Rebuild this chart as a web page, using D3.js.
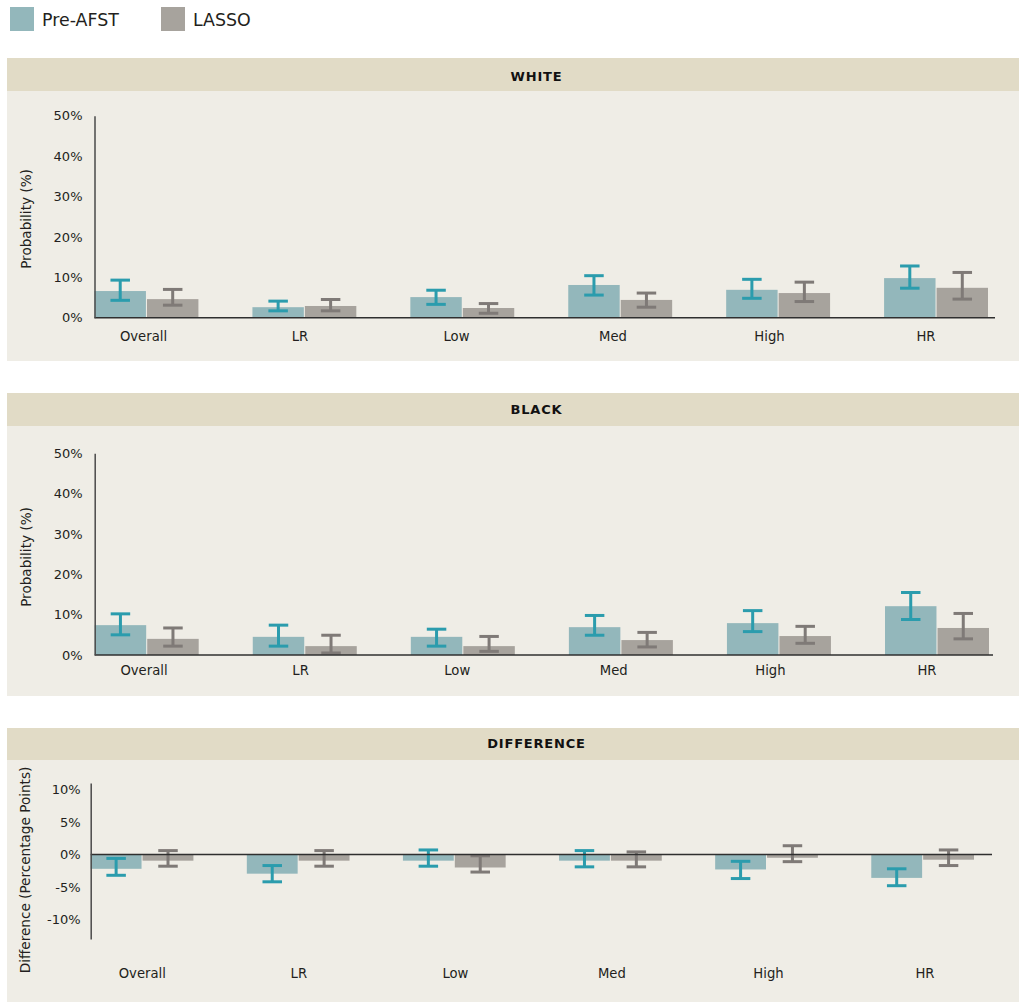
<!DOCTYPE html>
<html>
<head>
<meta charset="utf-8">
<script src="https://cdn.jsdelivr.net/npm/d3@7"></script>
<style>
  html, body { margin: 0; padding: 0; background: #ffffff; }
  svg { display: block; font-family: "DejaVu Sans", sans-serif; }
</style>
</head>
<body>
<svg id="chart" width="1019" height="1002"></svg>
<script>
// Risk-level categories shared by all three panels
const categories = ["Overall", "LR", "Low", "Med", "High", "HR"];
const seriesNames = ["Pre-AFST", "LASSO"];

// WHITE: probability (%) with interval bounds
const whitePre       = [6.6, 2.6, 5.1, 8.1, 6.9, 9.8];
const whitePreLow    = [4.3, 1.7, 3.3, 5.6, 4.8, 7.3];
const whitePreHigh   = [9.3, 4.1, 6.8, 10.4, 9.5, 12.8];
const whiteLasso     = [4.6, 2.9, 2.4, 4.4, 6.1, 7.4];
const whiteLassoLow  = [3.1, 1.7, 1.1, 2.6, 4.0, 4.6];
const whiteLassoHigh = [7.0, 4.5, 3.5, 6.1, 8.8, 11.2];

// BLACK: probability (%) with interval bounds
const blackPre       = [7.4, 4.5, 4.5, 6.9, 7.9, 12.1];
const blackPreLow    = [5.0, 2.2, 2.2, 4.9, 5.8, 8.8];
const blackPreHigh   = [10.2, 7.4, 6.4, 9.8, 11.0, 15.5];
const blackLasso     = [4.0, 2.2, 2.2, 3.7, 4.7, 6.7];
const blackLassoLow  = [2.2, 0.5, 0.9, 2.0, 2.9, 4.0];
const blackLassoHigh = [6.7, 4.9, 4.6, 5.6, 7.1, 10.3];

// DIFFERENCE: percentage points with interval bounds
const diffPre        = [-2.2, -2.95, -0.95, -0.95, -2.3, -3.6];
const diffPreLow     = [-3.2, -4.2, -1.8, -1.9, -3.7, -4.8];
const diffPreHigh    = [-0.6, -1.7, 0.7, 0.6, -1.05, -2.2];
const diffLasso      = [-0.95, -0.95, -2.0, -0.95, -0.5, -0.8];
const diffLassoLow   = [-1.8, -1.8, -2.7, -1.9, -1.1, -1.7];
const diffLassoHigh  = [0.6, 0.6, -0.2, 0.4, 1.35, 0.7];

// Tick values
const probTicks = [0, 10, 20, 30, 40, 50];
const diffTicks = [-10, -5, 0, 5, 10];

const colors = {
  headerBg: "#e1dbc6",
  bodyBg: "#efede6",
  bar: ["#93b7bb", "#a7a39d"],
  err: ["#2b9cad", "#7f7a77"],
  axis: "#4a4a4a",
  text: "#231f20"
};

const svg = d3.select("#chart");

// Legend
const legend = svg.append("g");
const legendX = [10, 161];
seriesNames.forEach((name, i) => {
  legend.append("rect")
    .attr("x", legendX[i]).attr("y", 7)
    .attr("width", 24).attr("height", 24)
    .attr("fill", colors.bar[i]);
  legend.append("text")
    .attr("x", legendX[i] + 32).attr("y", 19.3)
    .attr("dy", "0.36em")
    .attr("font-size", 17.4)
    .attr("fill", colors.text)
    .text(name);
});

function buildRows(pre, preLo, preHi, las, lasLo, lasHi) {
  return categories.map((c, i) => ({
    category: c,
    values: [
      { s: 0, v: pre[i], lo: preLo[i], hi: preHi[i] },
      { s: 1, v: las[i], lo: lasLo[i], hi: lasHi[i] }
    ]
  }));
}

const panels = [
  {
    title: "WHITE", yTitle: "Probability (%)",
    rows: buildRows(whitePre, whitePreLow, whitePreHigh, whiteLasso, whiteLassoLow, whiteLassoHigh),
    domain: [0, 50], ticks: probTicks, tickFmt: d => d + "%",
    top: 58, headerH: 33, bottom: 361, titleY: 76.5,
    yRange: [317.7, 115.7], axisX: 94.5, barsEnd: 988, lineEnd: 995,
    labelRange: [143.5, 926], labelY: 336, tickPad: 12,
    yTitleX: 26, yTitleY: 219
  },
  {
    title: "BLACK", yTitle: "Probability (%)",
    rows: buildRows(blackPre, blackPreLow, blackPreHigh, blackLasso, blackLassoLow, blackLassoHigh),
    domain: [0, 50], ticks: probTicks, tickFmt: d => d + "%",
    top: 393, headerH: 33, bottom: 696, titleY: 409,
    yRange: [655, 453.3], axisX: 94.7, barsEnd: 989, lineEnd: 993,
    labelRange: [144, 927], labelY: 670, tickPad: 12,
    yTitleX: 26, yTitleY: 557
  },
  {
    title: "DIFFERENCE", yTitle: "Difference (Percentage Points)",
    rows: buildRows(diffPre, diffPreLow, diffPreHigh, diffLasso, diffLassoLow, diffLassoHigh),
    domain: [-13, 11], ticks: diffTicks, tickFmt: d => d + "%",
    top: 728, headerH: 32, bottom: 1002, titleY: 743.5,
    yRange: [939, 783], axisX: 90.7, barsEnd: 974, lineEnd: 992,
    labelRange: [142.3, 925], labelY: 973, tickPad: 10,
    yTitleX: 25, yTitleY: 870
  }
];

panels.forEach(p => {
  const g = svg.append("g");

  // Panel background and header band
  g.append("rect")
    .attr("x", 7).attr("y", p.top)
    .attr("width", 1012).attr("height", p.bottom - p.top)
    .attr("fill", colors.bodyBg);
  g.append("rect")
    .attr("x", 7).attr("y", p.top)
    .attr("width", 1012).attr("height", p.headerH)
    .attr("fill", colors.headerBg);
  g.append("text")
    .attr("x", 536.5).attr("y", p.titleY)
    .attr("dy", "0.36em")
    .attr("text-anchor", "middle")
    .attr("font-size", 13)
    .attr("font-weight", 700)
    .attr("letter-spacing", 0.8)
    .attr("fill", "#111")
    .text(p.title);

  // Scales
  const y = d3.scaleLinear().domain(p.domain).range(p.yRange);
  const x0 = d3.scaleBand()
    .domain(categories)
    .range([p.axisX, p.barsEnd])
    .paddingInner(0.342)
    .paddingOuter(0);
  const x1 = d3.scaleBand()
    .domain([0, 1])
    .range([0, x0.bandwidth()])
    .paddingInner(0.02);
  const xLabel = d3.scalePoint().domain(categories).range(p.labelRange);

  // Bars
  const groups = g.selectAll("g.group")
    .data(p.rows)
    .join("g")
    .attr("class", "group")
    .attr("transform", d => `translate(${x0(d.category)},0)`);

  groups.selectAll("rect")
    .data(d => d.values)
    .join("rect")
    .attr("x", d => x1(d.s))
    .attr("width", x1.bandwidth())
    .attr("y", d => Math.min(y(d.v), y(0)))
    .attr("height", d => Math.abs(y(d.v) - y(0)))
    .attr("fill", d => colors.bar[d.s]);

  // Error bars
  const capW = 19.5;
  const err = groups.selectAll("g.err")
    .data(d => d.values)
    .join("g")
    .attr("class", "err")
    .attr("stroke", d => colors.err[d.s])
    .attr("stroke-width", 3)
    .attr("transform", d => `translate(${x1(d.s) + x1.bandwidth() / 2},0)`);
  err.append("line")
    .attr("x1", 0).attr("x2", 0)
    .attr("y1", d => y(d.lo)).attr("y2", d => y(d.hi));
  err.append("line")
    .attr("x1", -capW / 2).attr("x2", capW / 2)
    .attr("y1", d => y(d.hi)).attr("y2", d => y(d.hi));
  err.append("line")
    .attr("x1", -capW / 2).attr("x2", capW / 2)
    .attr("y1", d => y(d.lo)).attr("y2", d => y(d.lo));

  // Zero baseline
  g.append("line")
    .attr("x1", p.axisX).attr("x2", p.lineEnd)
    .attr("y1", y(0)).attr("y2", y(0))
    .attr("stroke", "#2f2f2f")
    .attr("stroke-width", 1.5);

  // Y axis
  const yAxis = g.append("g")
    .attr("transform", `translate(${p.axisX},0)`)
    .call(d3.axisLeft(y)
      .tickValues(p.ticks)
      .tickFormat(p.tickFmt)
      .tickSize(0)
      .tickSizeOuter(0)
      .tickPadding(p.tickPad));
  yAxis.select(".domain")
    .attr("stroke", colors.axis)
    .attr("stroke-width", 1.5);
  yAxis.selectAll("text")
    .attr("font-family", "\"DejaVu Sans\", sans-serif")
    .attr("font-size", 13)
    .attr("fill", colors.text);

  // Y axis title
  g.append("text")
    .attr("transform", `translate(${p.yTitleX},${p.yTitleY}) rotate(-90)`)
    .attr("text-anchor", "middle")
    .attr("dy", "0.35em")
    .attr("font-size", 13.6)
    .attr("fill", colors.text)
    .text(p.yTitle);

  // Category labels
  g.selectAll("text.cat")
    .data(categories)
    .join("text")
    .attr("class", "cat")
    .attr("x", d => xLabel(d))
    .attr("y", p.labelY)
    .attr("dy", "0.35em")
    .attr("text-anchor", "middle")
    .attr("font-size", 13.2)
    .attr("fill", colors.text)
    .text(d => d);
});
</script>
</body>
</html>
